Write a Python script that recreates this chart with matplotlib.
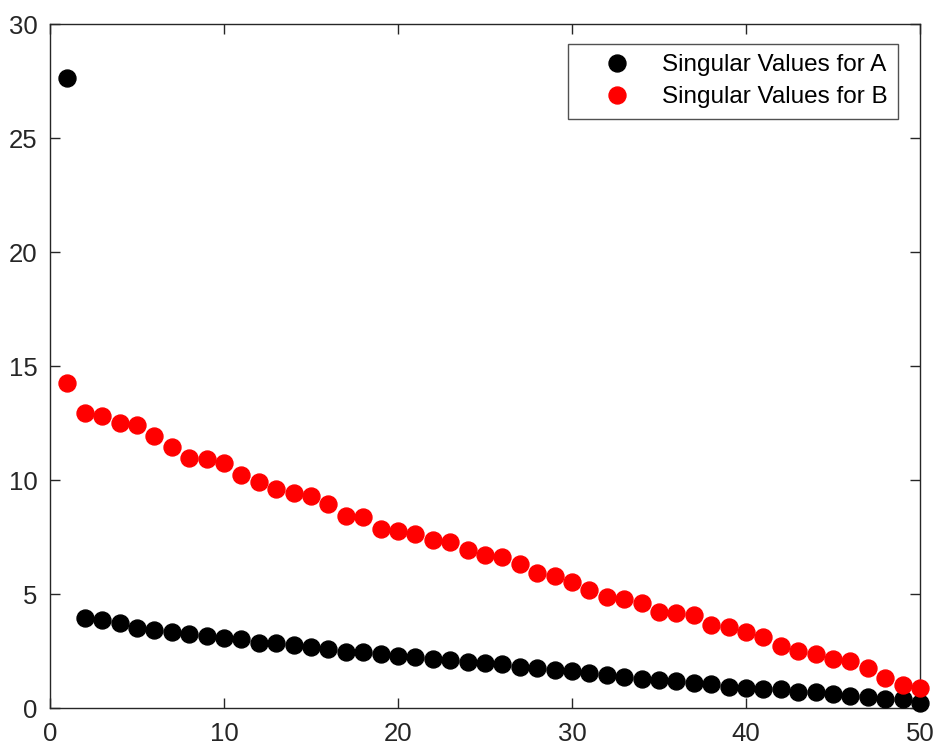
import matplotlib
matplotlib.use("Agg")
import matplotlib.pyplot as plt
import numpy as np

idx = list(range(1, 51))
sv_A = [27.65, 3.94, 3.86, 3.72, 3.50, 3.42, 3.33, 3.24, 3.16, 3.07,
        3.02, 2.85, 2.85, 2.76, 2.67, 2.59, 2.45, 2.45, 2.37, 2.28,
        2.23, 2.15, 2.10, 2.02, 1.97, 1.93, 1.80, 1.75, 1.67, 1.62,
        1.53, 1.45, 1.36, 1.27, 1.23, 1.18, 1.10, 1.05, 0.92, 0.88,
        0.83, 0.83, 0.70, 0.70, 0.61, 0.53, 0.48, 0.39, 0.39, 0.22]
sv_B = [14.24, 12.93, 12.80, 12.49, 12.40, 11.92, 11.44, 10.96, 10.91, 10.74,
        10.21, 9.90, 9.60, 9.42, 9.29, 8.94, 8.41, 8.37, 7.84, 7.76,
        7.62, 7.36, 7.27, 6.92, 6.70, 6.62, 6.31, 5.92, 5.78, 5.52,
        5.17, 4.86, 4.78, 4.60, 4.20, 4.16, 4.07, 3.64, 3.55, 3.33,
        3.11, 2.72, 2.50, 2.37, 2.15, 2.06, 1.75, 1.31, 1.00, 0.88]
labels = ["Singular Values for A", "Singular Values for B"]

plt.rcParams['font.family'] = ['Liberation Sans', 'DejaVu Sans']
fig = plt.figure(figsize=(9.36, 7.48), dpi=100)
ax = fig.add_axes([50/936, 1 - 708/748, 870/936, 684/748])

ax.plot(idx, sv_A, 'o', color='black', markersize=12.2, label=labels[0], clip_on=False, zorder=3)
ax.plot(idx, sv_B, 'o', color='red', markersize=12.2, label=labels[1], clip_on=False, zorder=3)

ax.set_xlim(0, 50)
ax.set_ylim(0, 30)
ax.set_xticks(range(0, 51, 10))
ax.set_yticks(range(0, 31, 5))
axc = '#262626'
for s in ax.spines.values():
    s.set_color(axc)
    s.set_linewidth(1.0)
ax.tick_params(direction='in', top=True, right=True, length=7, width=1.0,
               colors=axc, labelsize=18.5, labelcolor=axc)
ax.tick_params(axis='x', pad=10)
ax.tick_params(axis='y', pad=9)

leg = ax.legend(loc='upper right', fontsize=17.5, frameon=True, fancybox=False,
                edgecolor=axc, borderpad=0.42, borderaxespad=0, handletextpad=0.25,
                labelspacing=0.42, handlelength=3.2, markerscale=1.0)
leg.get_frame().set_linewidth(1.0)
leg.set_bbox_to_anchor((898/936, 1 - 44/748), transform=fig.transFigure)

fig.savefig("out.png", dpi=100)
